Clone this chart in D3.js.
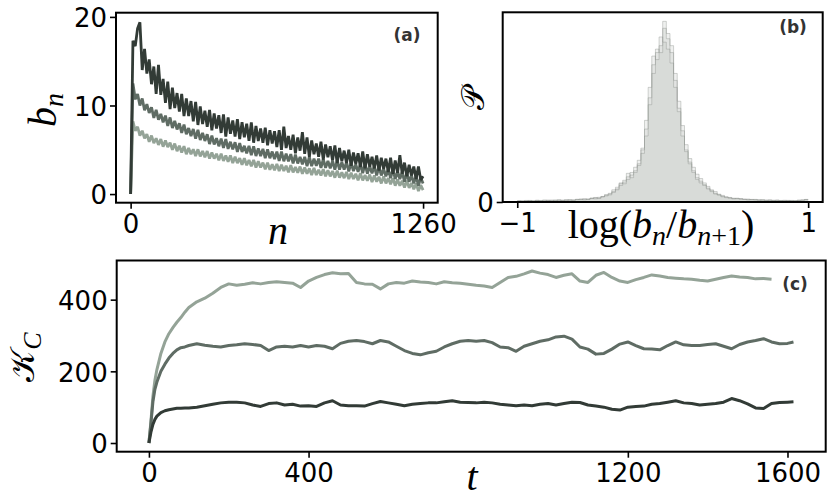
<!DOCTYPE html>
<html><head><meta charset="utf-8">
<script src="https://cdn.jsdelivr.net/npm/d3@7"></script>
<style>
html,body{margin:0;padding:0;background:#fff;}
svg text{font-family:"DejaVu Sans",sans-serif;}
.math{font-family:"Liberation Serif","DejaVu Serif",serif;}
</style></head>
<body><svg id="chart" width="831" height="503"></svg>
<script>
// ---------- DATA ----------
// Panel (a): b_n sampled every 10 steps of n (0..1260)
const nStep = 10;
const bnDark = [0,17.3,16.7,18.7,19.4,14.0,16.4,13.6,15.2,12.4,
 14.4,11.3,14.6,11.2,13.0,10.3,12.7,9.6,12.0,9.7,
 11.4,9.3,11.3,8.8,10.8,8.8,10.5,8.2,10.4,7.8,
 9.9,7.9,9.4,7.6,9.5,7.2,9.1,7.4,8.9,6.9,
 9.0,6.5,8.65,6.8,8.3,6.5,8.45,6.2,8.1,6.4,
 7.95,6.0,8.1,5.8,7.7,6.0,7.4,5.8,7.5,5.5,
 7.2,5.7,7.1,5.3,7.2,5.0,7.6,5.2,6.55,5.0,
 6.7,4.6,6.4,4.9,7.0,4.55,6.4,4.2,6.05,4.5,
 5.7,4.2,5.9,3.9,5.6,4.15,5.4,3.8,5.5,3.5,
 5.2,3.7,4.9,3.5,5.0,3.2,4.7,3.4,4.6,3.05,
 4.8,2.9,4.5,3.1,4.2,2.9,4.35,2.65,4.1,2.85,
 4.0,2.5,4.1,2.3,3.8,2.4,4.4,2.3,3.55,2.0,
 3.3,2.1,3.1,1.7,3.1,1.6,2.0];
const bnMid = [0,12.5,10.7,11.3,10.0,10.8,9.45,10.15,9.15,9.8,
 8.6,9.5,8.4,9.05,8.1,8.85,7.7,8.65,7.45,8.25,
 7.3,8.0,6.9,7.85,6.75,7.45,6.55,7.35,6.25,7.25,
 6.1,6.9,6.0,6.75,5.65,6.6,5.6,6.3,5.4,6.25,
 5.2,6.2,5.1,5.9,5.05,5.85,4.75,5.75,4.75,5.45,
 4.6,5.45,4.4,5.4,4.3,5.15,4.3,5.1,4.05,5.05,
 4.05,4.8,3.95,4.8,3.75,4.8,3.7,4.55,3.7,4.5,
 3.45,4.45,3.45,4.2,3.35,4.2,3.15,4.2,3.15,4.0,
 3.2,4.0,2.95,3.95,2.95,3.75,2.9,3.75,2.75,3.8,
 2.75,3.6,2.75,3.6,2.55,3.55,2.6,3.35,2.5,3.4,
 2.35,3.4,2.3,3.15,2.35,3.15,2.1,3.1,2.1,2.85,
 2.0,2.85,1.8,2.8,1.7,2.55,1.7,2.5,1.4,2.4,
 1.4,2.1,1.2,2.05,0.95,1.85,1.2];
const bnLight = [0,8.2,7.15,7.6,6.6,7.15,6.3,6.75,5.9,6.6,
 5.75,6.3,5.55,6.2,5.35,6.05,5.3,5.8,5.0,5.7,
 4.85,5.45,4.7,5.4,4.5,5.2,4.5,5.05,4.3,5.05,
 4.25,4.85,4.15,4.85,4.0,4.7,4.0,4.55,3.8,4.55,
 3.75,4.35,3.65,4.35,3.5,4.2,3.5,4.05,3.3,4.05,
 3.25,3.85,3.15,3.85,3.0,3.7,3.0,3.55,2.8,3.55,
 2.75,3.35,2.7,3.4,2.6,3.3,2.6,3.2,2.45,3.25,
 2.45,3.05,2.4,3.1,2.3,3.0,2.3,2.9,2.15,2.95,
 2.15,2.75,2.1,2.8,2.0,2.7,2.0,2.6,1.85,2.65,
 1.85,2.45,1.8,2.5,1.7,2.4,1.7,2.3,1.55,2.35,
 1.55,2.15,1.5,2.2,1.35,2.1,1.4,1.95,1.2,2.0,
 1.2,1.8,1.1,1.8,0.95,1.65,0.95,1.5,0.75,1.5,
 0.7,1.25,0.55,1.2,0.35,1.0,0.45];
const aXTicks = [0, 1260];
const aYTicks = [0, 10, 20];

// Panel (b): histograms of log(b_n/b_{n+1}), 80 bins of width 0.025 on [-1,1]
const binLo = -1, binW = 0.025;
const histA = [0.8,0.5,0.9,0.6,0.7,1.0,0.6,1.2,0.8,1.1,0.7,1.3,0.9,1.4,1.0,1.2,
 1.6,1.3,1.9,1.5,2.1,2.4,2.0,2.9,3.5,4.1,
 6.0,7.5,9.5,11.5,13.0,15.5,18.0,22.0,28.0,42.0,60.0,79.0,86.0,90.0,
 100,94,86,70,54,41,30,22,18,14,
 12,9.5,8,6.0,5,4.0,3.3,2.8,2.4,2.0,
 2.2,1.8,1.5,1.7,1.3,1.5,1.1,1.3,1.0,1.2,0.9,1.1,0.8,1.0,0.7,0.9,0.8,1.0,1.2,1.5];
const histB = [0.4,0.7,0.5,0.8,0.6,0.9,0.7,0.8,1.0,0.6,0.9,1.1,0.8,1.0,1.2,0.9,
 1.3,1.6,1.2,1.8,2.3,1.9,2.7,3.2,3.8,5.0,
 5.5,8.5,10.5,12.5,16.5,14.0,17.0,24.0,31.0,47.0,66.0,84.0,82.0,95.0,
 92,88,80,66,58,44,33,25,20,16,
 13.5,11,9,7,6,4.5,3.8,3.0,2.6,2.2,
 1.9,2.0,1.6,1.4,1.5,1.2,1.3,1.0,1.1,0.9,1.0,0.8,0.9,0.7,0.9,0.8,0.6,0.9,1.0,1.3];
const histC = [0.6,0.4,0.7,0.9,0.5,0.8,0.9,0.6,1.0,0.9,1.2,0.8,1.1,0.9,1.3,1.1,
 1.4,1.7,1.6,1.4,2.0,2.6,2.3,3.1,4.3,4.6,
 7.0,7.0,11.0,10.5,14.5,17.0,20.0,21.0,30.0,38.0,56.0,74.0,88.0,86.0,
 104,97,90,74,52,38,29,23,17,13,
 11,10,7.5,6.5,4.6,4.2,3.0,2.5,2.2,1.8,
 2.0,1.6,1.6,1.2,1.4,1.3,1.0,1.2,0.8,1.1,0.8,1.0,0.7,0.8,0.9,0.6,0.7,1.0,1.1,1.4];
const bXTicks = [-1, 1];
const bYTicks = [0];

// Panel (c): K_C(t)
const tC = [0,5,10,15,20,30,40,50,60,70,80,90,100].concat(d3.range(120, 1601, 20), [1615]);
const kLight = [0,60,130,175,205,250,282,305,322,337,350,365,378,
 394,404,418,434,444,
 440,443,447,444,448,450,448,446,434,452,
 462,470,475,472,473,448,444,443,430,444,
 448,446,452,449,448,444,450,447,446,443,
 440,438,434,448,462,465,472,480,474,470,
 462,468,472,452,448,468,476,462,452,448,
 456,462,469,466,462,460,458,457,454,452,
 457,462,466,463,462,458,459,457];
const kMid = [0,55,115,150,170,200,220,237,250,260,266,268,272,
 277,273,270,268,272,
 274,277,275,272,258,268,270,268,272,268,
 272,270,263,278,284,286,283,277,286,282,
 270,258,250,246,252,256,268,277,284,286,
 284,286,280,268,266,256,270,277,284,288,
 296,298,290,268,262,248,250,262,276,282,
 272,263,262,260,272,282,274,272,272,275,
 277,270,263,275,282,286,291,282,277,278,
 282];
const kDark = [0,30,52,66,75,85,90,93,95,97,97,98,98,
 100,104,108,112,114,
 114,112,106,102,110,112,106,108,103,104,
 102,112,118,106,104,104,103,110,116,112,
 108,104,108,110,112,112,115,118,114,113,
 112,114,112,108,106,104,106,104,108,110,
 106,110,114,113,106,103,100,94,92,100,
 102,103,108,110,114,118,112,110,106,108,
 110,114,124,118,109,98,96,110,113,114,
 115];
const cXTicks = [0, 400, 1200, 1600];
const cYTicks = [0, 200, 400];

const colDark = "#323b36", colMid = "#5f6c64", colLight = "#94a397";

// ---------- DRAW ----------
const svg = d3.select("#chart");
const TICK_FONT = 26;

function frame(g, x, y, w, h){
  g.append("rect").attr("x", x).attr("y", y).attr("width", w).attr("height", h)
   .attr("fill", "none").attr("stroke", "#000").attr("stroke-width", 2);
}
function styleAxis(ax){
  ax.select(".domain").remove();
  ax.selectAll(".tick line").attr("stroke", "#000").attr("stroke-width", 1.6);
  ax.selectAll(".tick text").attr("fill", "#000").style("font-size", TICK_FONT + "px")
    .style("font-family", "'DejaVu Sans',sans-serif");
}
function axes(sx, sy, L, T, R, B, xt, yt, xfmt){
  const gx = svg.append("g").attr("transform", `translate(0,${B})`)
    .call(d3.axisBottom(sx).tickValues(xt).tickSize(6).tickPadding(6).tickFormat(xfmt || d3.format("d")));
  styleAxis(gx);
  const gy = svg.append("g").attr("transform", `translate(${L},0)`)
    .call(d3.axisLeft(sy).tickValues(yt).tickSize(6).tickPadding(3).tickFormat(d3.format("d")));
  styleAxis(gy);
  gy.selectAll(".tick text").attr("dy", "0.38em");
}

// Panel A
{
  const L=116, T=12.7, R=437.7, B=202.7;
  const x = d3.scaleLinear().domain([-63, 1323]).range([L, R]);
  const y = d3.scaleLinear().domain([-0.975, 20.475]).range([B, T]);
  const line = d3.line().x((d,i)=>x(i*nStep)).y(d=>y(d));
  [[bnLight,colLight,2.8],[bnMid,colMid,2.8],[bnDark,colDark,2.8]].forEach(([s,c,w])=>{
    svg.append("path").datum(s).attr("d", line).attr("fill","none")
      .attr("stroke", c).attr("stroke-width", w).attr("stroke-linejoin","bevel");
  });
  frame(svg, L, T, R-L, B-T);
  axes(x, y, L, T, R, B, aXTicks, aYTicks);
  svg.append("text").attr("x", 407).attr("y", 41).attr("text-anchor","middle")
    .style("font-size","17px").style("font-weight","bold").attr("fill","#333").text("(a)");
  svg.append("text").attr("class","math").attr("x", 278).attr("y", 244).attr("text-anchor","middle")
    .style("font-size","40px").style("font-style","italic").text("n");
  const yl = svg.append("text").attr("class","math").attr("transform","translate(56,110) rotate(-90)")
    .attr("text-anchor","middle").style("font-size","40px");
  yl.append("tspan").style("font-style","italic").text("b");
  yl.append("tspan").style("font-style","italic").style("font-size","28px").attr("dy", 7).text("n");
}

// Panel B
{
  const L=502.7, T=12.3, R=822.7, B=202;
  const x = d3.scaleLinear().domain([-1.1, 1.1]).range([L, R]);
  const hmax = d3.max([...histA, ...histB, ...histC]);
  const y = d3.scaleLinear().domain([0, hmax*1.05]).range([B, T]);
  const stepArea = d3.area().curve(d3.curveStepAfter)
    .x((d,i)=>x(binLo + i*binW)).y0(B).y1(d=>y(d));
  const stepLine = d3.line().curve(d3.curveStepAfter)
    .x((d,i)=>x(binLo + i*binW)).y(d=>y(d));
  [histA, histB, histC].forEach(h=>{
    const s = h.concat([h[h.length-1]]);
    svg.append("path").datum(s).attr("d", stepArea)
      .attr("fill", "#b4b9b5").attr("fill-opacity", 0.22).attr("stroke", "none");
  });
  [histA, histB, histC].forEach(h=>{
    const s = h.concat([h[h.length-1]]);
    svg.append("path").datum(s).attr("d", stepLine).attr("fill","none")
      .attr("stroke", "#8e948f").attr("stroke-opacity", 0.4).attr("stroke-width", 1);
  });
  frame(svg, L, T, R-L, B-T);
  axes(x, y, L, T, R, B, bXTicks, bYTicks, d=> d<0 ? "\u2212"+Math.abs(d) : String(d));
  svg.append("text").attr("x", 793).attr("y", 33).attr("text-anchor","middle")
    .style("font-size","17px").style("font-weight","bold").attr("fill","#333").text("(b)");
  const xl = svg.append("text").attr("class","math").attr("x", 661).attr("y", 238).attr("text-anchor","middle")
    .style("font-size","40px");
  xl.append("tspan").text("log(");
  xl.append("tspan").style("font-style","italic").text("b");
  xl.append("tspan").style("font-style","italic").style("font-size","28px").attr("dy",7).text("n");
  xl.append("tspan").attr("dy",-7).text("/");
  xl.append("tspan").style("font-style","italic").text("b");
  const s2 = xl.append("tspan").style("font-size","28px").attr("dy",7);
  s2.append("tspan").style("font-style","italic").text("n");
  s2.append("tspan").text("+1");
  xl.append("tspan").attr("dy",-7).text(")");
  svg.append("text").attr("class","math").attr("transform","translate(484,98) rotate(-90)")
    .attr("text-anchor","middle").style("font-size","32px").text("\uD835\uDCAB");
}

// Panel C
{
  const L=116.7, T=260.5, R=825.7, B=451.7;
  const x = d3.scaleLinear().domain([-80.75, 1695.75]).range([L, R]);
  const y = d3.scaleLinear().domain([-24.25, 509.25]).range([B, T]);
  const line = d3.line().x((d,i)=>x(tC[i])).y(d=>y(d));
  [[kLight,colLight],[kMid,colMid],[kDark,colDark]].forEach(([s,c])=>{
    svg.append("path").datum(s).attr("d", line).attr("fill","none")
      .attr("stroke", c).attr("stroke-width", 3).attr("stroke-linejoin","round");
  });
  frame(svg, L, T, R-L, B-T);
  axes(x, y, L, T, R, B, cXTicks, cYTicks);
  svg.append("text").attr("x", 795).attr("y", 290).attr("text-anchor","middle")
    .style("font-size","17px").style("font-weight","bold").attr("fill","#333").text("(c)");
  svg.append("text").attr("class","math").attr("x", 472).attr("y", 490).attr("text-anchor","middle")
    .style("font-size","40px").style("font-style","italic").text("t");
  const yl = svg.append("text").attr("class","math").attr("transform","translate(34,357) rotate(-90)")
    .attr("text-anchor","middle").style("font-size","34px");
  yl.append("tspan").text("\uD835\uDCA6");
  yl.append("tspan").style("font-style","italic").style("font-size","26px").attr("dy", 7).text("C");
}
</script></body></html>
